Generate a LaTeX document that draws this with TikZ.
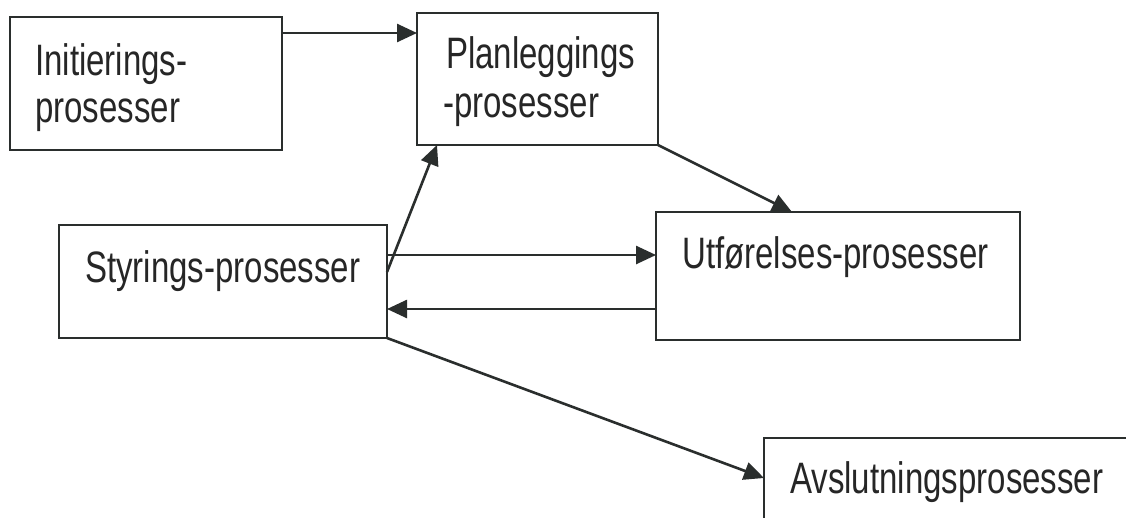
\documentclass[tikz,border=0pt]{standalone}
\usepackage{fontspec}
\setmainfont[FakeStretch=0.75]{Liberation Sans}
\usetikzlibrary{arrows.meta}
\definecolor{ink}{HTML}{2A2E2D}
\definecolor{txt}{HTML}{262626}
\begin{document}
\begin{tikzpicture}[x=1pt,y=-1pt,
  box/.style={draw=ink, line width=2.8pt, inner sep=0pt, outer sep=0pt, anchor=north west},
  lbl/.style={anchor=base west, inner sep=0pt, text=txt, font=\fontsize{44}{47}\selectfont},
  flow/.style={draw=ink, line width=2.6pt, -{Triangle[length=20pt,width=18pt]}}]
\useasboundingbox (0,0) rectangle (1126,517);
\fill[white] (0,0) rectangle (1126,517);
\clip (0,0) rectangle (1126,517);

% process boxes
\node[box, minimum width=272pt, minimum height=133pt] (init) at (10,17) {};
\node[box, minimum width=241pt, minimum height=132pt] (plan) at (417,13) {};
\node[box, minimum width=328pt, minimum height=113pt] (styr) at (59,225) {};
\node[box, minimum width=364pt, minimum height=128pt] (utf) at (656,212) {};
\node[box, minimum width=400pt, minimum height=120pt] (avsl) at (764,438) {};

% labels
\node[lbl] (initA) at (35,75) {Initierings-};
\node[lbl] (initB) at (35,122) {prosesser};
\node[lbl] (planA) at (446,68) {Planleggings};
\node[lbl] (planB) at (443,117) {-prosesser};
\node[lbl] (styrT) at (85,282) {Styrings-prosesser};
\node[lbl] (utfT) at (682,268) {Utførelses-prosesser};
\node[lbl] (avslT) at (790,493) {Avslutningsprosesser};

% connector end points on the box borders
\coordinate (i1) at ([yshift=-16pt]init.north east);
\coordinate (s1) at ([yshift=-30pt]styr.north east);
\coordinate (s2) at ([yshift=-47pt]styr.north east);
\coordinate (u1) at ([yshift=-97pt]utf.north west);

% connectors
\draw[flow] (i1) -- (i1 -| plan.west);
\draw[flow] (plan.south east) -- ([xshift=136pt]utf.north west);
\draw[flow] (s2) -- ([xshift=20pt]plan.south west);
\draw[flow] (s1) -- (s1 -| utf.west);
\draw[flow] (u1) -- (u1 -| styr.east);
\draw[flow] (styr.south east) -- ([yshift=-40pt]avsl.north west);
\end{tikzpicture}
\end{document}
